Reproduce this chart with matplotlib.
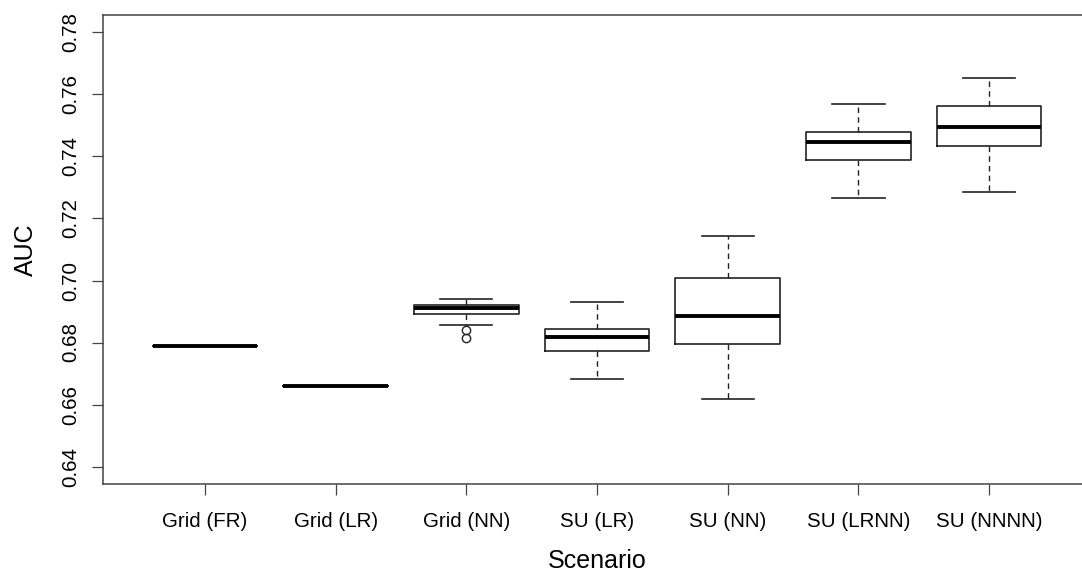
import numpy as np
import matplotlib
matplotlib.use("Agg")
import matplotlib.pyplot as plt

plt.rcParams['font.family'] = ['Liberation Sans', 'DejaVu Sans']

# values
scenarios = ["Grid (FR)", "Grid (LR)", "Grid (NN)", "SU (LR)", "SU (NN)", "SU (LRNN)", "SU (NNNN)"]
whisker_low = [0.6788, 0.6661, 0.6858, 0.6681, 0.6619, 0.7265, 0.7284]
q1 = [0.6788, 0.6661, 0.6892, 0.6772, 0.6794, 0.7389, 0.7434]
median = [0.6788, 0.6661, 0.6911, 0.6817, 0.6886, 0.7446, 0.7494]
q3 = [0.6788, 0.6661, 0.6922, 0.6843, 0.7007, 0.7480, 0.7562]
whisker_high = [0.6788, 0.6661, 0.6941, 0.6931, 0.7143, 0.7568, 0.7654]
outliers = [[], [], [0.6839, 0.6814], [], [], [], []]

yticks = [0.64, 0.66, 0.68, 0.70, 0.72, 0.74, 0.76, 0.78]

stats = []
for i in range(len(scenarios)):
    stats.append(dict(label=scenarios[i], whislo=whisker_low[i], q1=q1[i], med=median[i],
                      q3=q3[i], whishi=whisker_high[i], fliers=outliers[i]))

fig = plt.figure(figsize=(10.82, 5.74), dpi=100)
ax = fig.add_axes([103 / 1082, 90 / 574, (1091 - 103) / 1082, (484 - 15) / 574])

positions = np.arange(1, len(scenarios) + 1)
line_col = "#222222"
ax.bxp(stats, positions=positions, widths=0.8, showfliers=True,
       boxprops=dict(color=line_col, linewidth=1.2),
       medianprops=dict(color="black", linewidth=2.8, solid_capstyle="butt"),
       whiskerprops=dict(color=line_col, linewidth=1.0, linestyle=(0, (4, 3))),
       capprops=dict(color=line_col, linewidth=1.2),
       capwidths=0.4,
       flierprops=dict(marker="o", markerfacecolor="none", markeredgecolor=line_col,
                       markersize=6, markeredgewidth=1.0))

ax.set_xlim(0.22, 7.78)
ax.set_ylim(0.6344, 0.7856)
ax.set_yticks(yticks)
ax.set_yticklabels(["%.2f" % v for v in yticks])
ax.set_xticks(positions)
ax.set_xticklabels(scenarios)

ax.tick_params(axis="x", length=8, width=0.9, color="#444444", labelsize=14.8, pad=12)
ax.tick_params(axis="y", length=8, width=0.9, color="#444444", labelsize=14.8, pad=8.5,
               labelrotation=90)
for lbl in ax.get_yticklabels():
    lbl.set_va("center")

for s in ax.spines.values():
    s.set_color("#444444")
    s.set_linewidth(1.1)

ax.set_xlabel("Scenario", fontsize=18, labelpad=13)
ax.set_ylabel("AUC", fontsize=18, labelpad=17)

fig.savefig("out.png", dpi=100)
